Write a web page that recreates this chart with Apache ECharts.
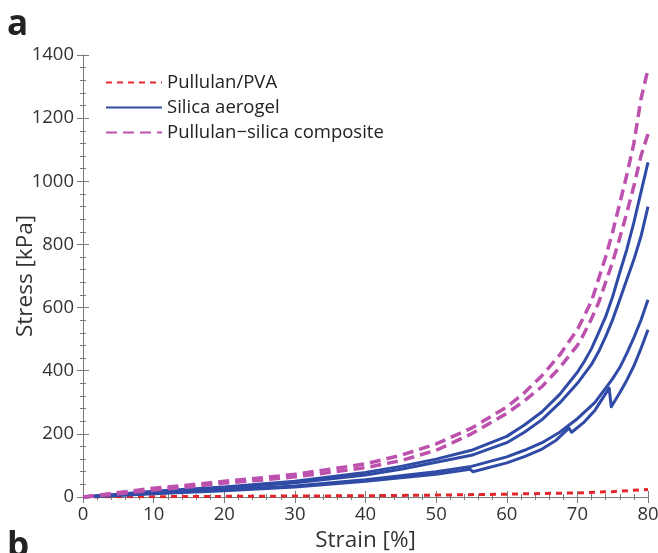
<!DOCTYPE html>
<html>
<head>
<meta charset="utf-8">
<script src="https://cdn.jsdelivr.net/npm/echarts@6/dist/echarts.min.js"></script>
<style>
  html, body { margin: 0; padding: 0; background: #fff; }
  #main { width: 658px; height: 553px; }
</style>
</head>
<body>
<div id="main"></div>
<script>
// curve data: strain [%] / stress [kPa]
var pvaStrain = [0, 10, 20, 30, 40, 50, 60, 70, 75, 80];
var pvaStress = [0, 1, 2, 3, 4, 6, 9, 13, 17, 24];

// silica aerogel, outer loop (two branches)
var silicaStrainC = [0, 5, 10, 20, 30, 40, 45, 50, 55, 60, 62.5, 65, 67.5, 70, 71, 72, 73, 74, 75, 76, 77, 78, 79, 80];
var silicaStressC = [0, 9, 18, 32, 50, 78, 97, 120, 148, 192, 228, 270, 325, 395, 430, 470, 520, 571, 635, 711, 784, 870, 965, 1060];
var silicaStrainD = [0, 5, 10, 20, 30, 40, 45, 50, 55, 60, 62.5, 65, 67.5, 70, 71, 72, 73, 74, 75, 76, 77, 78, 79, 80];
var silicaStressD = [0, 8, 15, 28, 45, 70, 88, 110, 132, 172, 205, 245, 298, 360, 390, 420, 460, 508, 562, 625, 689, 752, 825, 920];

// silica aerogel, inner loop (smooth branch + branch with kinks)
var silicaStrainA = [0, 10, 20, 30, 40, 50, 55, 60, 62.5, 65, 67.5, 70, 72.5, 75, 76, 77, 78, 79, 80];
var silicaStressA = [0, 12, 22, 35, 55, 80, 97, 127, 148, 172, 205, 248, 300, 375, 410, 455, 505, 560, 625];
var silicaStrainB = [0, 10, 20, 30, 40, 50, 54.8, 55.2, 60, 62.5, 65, 67, 68.8, 69.2, 71, 72.5, 74.5, 74.8, 76, 77, 78, 79, 80];
var silicaStressB = [0, 10, 20, 32, 50, 72, 88, 80, 108, 128, 152, 180, 218, 205, 238, 275, 345, 286, 330, 370, 415, 470, 530];

// pullulan-silica composite (two branches)
var compStrainU = [0, 5, 10, 15, 20, 25, 30, 35, 40, 45, 50, 55, 60, 62.5, 65, 67.5, 70, 71, 72, 73, 74, 75, 76, 77, 78, 79, 80];
var compStressU = [0, 14, 28, 38, 50, 60, 72, 88, 105, 132, 168, 218, 285, 330, 385, 450, 530, 575, 620, 690, 760, 840, 930, 1020, 1120, 1260, 1355];
var compStrainL = [0, 5, 10, 15, 20, 25, 30, 35, 40, 45, 50, 55, 60, 62.5, 65, 67.5, 70, 71, 72, 73, 74, 75, 76, 77, 78, 79, 80];
var compStressL = [0, 10, 22, 32, 44, 53, 64, 78, 93, 115, 148, 200, 265, 305, 350, 410, 480, 520, 565, 615, 680, 745, 820, 900, 985, 1080, 1150];

var xTicks = [0, 10, 20, 30, 40, 50, 60, 70, 80];
var yTicks = [0, 200, 400, 600, 800, 1000, 1200, 1400];

var seriesNames = ['Pullulan/PVA', 'Silica aerogel', 'Pullulan\u2212silica composite'];

function pairs(xs, ys) {
  return xs.map(function (x, i) { return [x, ys[i]]; });
}

var red = '#e2262b', blue = '#2f4ba6', pink = '#bd52ae';

function curve(name, xs, ys, color, type, width) {
  return {
    name: name, type: 'line', symbol: 'none', smooth: false,
    data: pairs(xs, ys),
    lineStyle: { color: color, width: width, type: type, join: 'round' },
    itemStyle: { color: color },
    z: 3
  };
}

var chart = echarts.init(document.getElementById('main'));

var axisGray = '#7a7a7a';
var tickFont = { color: '#333', fontSize: 18.5, fontFamily: 'Open Sans' };
var nameFont = { color: '#333', fontSize: 22.5, fontFamily: 'Open Sans' };

function boxAxis(extra) {
  return Object.assign({
    axisLine: { show: true, lineStyle: { color: axisGray } },
    axisTick: { show: true, inside: true, length: 6, lineStyle: { color: axisGray } },
    minorTick: { show: true, splitNumber: 5, length: 3, lineStyle: { color: axisGray } },
    splitLine: { show: false }
  }, extra);
}

chart.setOption({
  animation: false,
  grid: { left: 83, right: 10, top: 55, bottom: 56, outerBoundsMode: 'none', containLabel: false },
  legend: {
    data: seriesNames,
    orient: 'vertical', left: 100, top: 68,
    itemWidth: 56, itemHeight: 14, itemGap: 6,
    itemStyle: { opacity: 0 },
    textStyle: { fontSize: 18.5, color: '#222', fontFamily: 'Open Sans' }
  },
  graphic: [
    { type: 'text', left: 7, top: 8, style: { text: 'a', font: 'bold 35px "Open Sans"', fill: '#222' } },
    { type: 'text', left: 7, top: 530, style: { text: 'b', font: 'bold 35px "Open Sans"', fill: '#222' } }
  ],
  xAxis: [boxAxis({
    type: 'value', min: xTicks[0], max: xTicks[xTicks.length - 1], interval: 10,
    name: 'Strain [%]', nameLocation: 'middle', nameGap: 29,
    nameTextStyle: nameFont,
    axisLabel: Object.assign({ margin: 8 }, tickFont)
  }), boxAxis({
    type: 'value', position: 'top', min: 0, max: 80, interval: 10,
    axisLabel: { show: false }
  })],
  yAxis: [boxAxis({
    type: 'value', min: yTicks[0], max: yTicks[yTicks.length - 1], interval: 200,
    name: 'Stress [kPa]', nameLocation: 'middle', nameGap: 46, nameMoveOverlap: false,
    nameTextStyle: nameFont,
    axisLabel: Object.assign({ margin: 9, formatter: function (v) { return String(v); } }, tickFont)
  }), boxAxis({
    type: 'value', position: 'right', min: 0, max: 1400, interval: 200,
    axisLabel: { show: false }
  })],
  series: [
    curve(seriesNames[0], pvaStrain, pvaStress, red, [6, 5], 3),
    curve(seriesNames[1], silicaStrainC, silicaStressC, blue, 'solid', 3),
    curve(seriesNames[1], silicaStrainD, silicaStressD, blue, 'solid', 3),
    curve(seriesNames[1], silicaStrainA, silicaStressA, blue, 'solid', 3),
    curve(seriesNames[1], silicaStrainB, silicaStressB, blue, 'solid', 3),
    curve(seriesNames[2], compStrainU, compStressU, pink, [11, 6], 3.5),
    curve(seriesNames[2], compStrainL, compStressL, pink, [11, 6], 3.5)
  ]
});
</script>
</body>
</html>
